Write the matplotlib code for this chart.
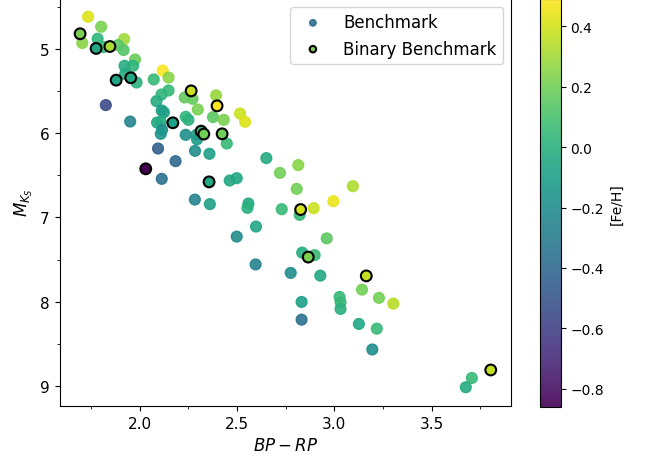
import numpy as np
import matplotlib
matplotlib.use('Agg')
import matplotlib.pyplot as plt
from matplotlib.ticker import AutoMinorLocator

# benchmark stars: colour, absolute Ks magnitude, metallicity
bp_rp = [2.114, 1.736, 1.706, 1.803, 1.785, 1.815, 1.921, 1.889, 1.918, 1.977,
         1.967, 1.923, 1.926, 1.985, 1.827, 2.119, 2.073, 2.149, 2.149, 2.113,
         2.087, 2.232, 2.272, 2.299, 2.393, 2.377, 2.432, 2.516, 2.542, 2.114,
         2.125, 2.090, 2.109, 2.116, 2.109, 2.237, 2.251, 2.237, 2.292, 2.295,
         2.448, 2.095, 2.285, 2.359, 2.185, 2.651, 2.721, 2.815, 2.463, 2.499,
         2.807, 2.284, 2.361, 2.559, 2.554, 2.730, 2.822, 2.894, 2.995, 3.095,
         2.598, 2.499, 2.835, 2.899, 2.961, 2.596, 2.776, 2.928, 3.142, 3.229,
         3.303, 3.027, 3.032, 3.032, 2.832, 2.832, 3.126, 3.218, 3.195, 3.706,
         3.675, 1.952]
mks = [6.543, 4.620, 4.932, 4.739, 4.881, 4.980, 4.885, 4.956, 5.015, 5.127,
       5.202, 5.202, 5.300, 5.400, 5.668, 5.258, 5.364, 5.341, 5.495, 5.542,
       5.621, 5.578, 5.593, 5.720, 5.552, 5.811, 5.843, 5.768, 5.866, 5.732,
       5.754, 5.875, 5.866, 5.961, 6.009, 5.807, 5.843, 6.021, 6.021, 6.074,
       6.124, 6.183, 6.211, 6.246, 6.333, 6.297, 6.472, 6.380, 6.563, 6.535,
       6.662, 6.789, 6.843, 6.836, 6.887, 6.903, 6.970, 6.891, 6.808, 6.630,
       7.109, 7.228, 7.418, 7.448, 7.249, 7.558, 7.659, 7.691, 7.857, 7.955,
       8.023, 7.944, 8.007, 8.086, 8.003, 8.213, 8.264, 8.320, 8.567, 8.905,
       9.015, 5.863]
feh = [-0.36, 0.42, 0.25, 0.22, 0.03, 0.05, 0.30, 0.15, 0.13, 0.18,
       0.02, -0.02, -0.03, 0.00, -0.55, 0.48, 0.05, 0.25, 0.05, 0.02,
       -0.03, 0.17, 0.17, 0.22, 0.28, 0.15, 0.22, 0.38, 0.42, -0.12,
       -0.10, -0.05, -0.03, -0.20, -0.15, 0.03, 0.00, -0.20, -0.10, -0.12,
       0.05, -0.45, -0.20, -0.10, -0.40, -0.03, 0.20, 0.25, -0.05, -0.05,
       0.20, -0.25, -0.10, -0.05, 0.00, 0.05, 0.05, 0.38, 0.45, 0.33,
       -0.05, -0.20, -0.02, 0.05, 0.15, -0.25, -0.20, -0.05, 0.20, 0.20,
       0.35, 0.05, 0.05, 0.00, -0.10, -0.35, -0.05, 0.05, -0.20, 0.05,
       -0.03, -0.25]

# binary benchmark stars
bin_bp_rp = [1.695, 1.777, 1.848, 1.955, 1.880, 2.265, 2.398, 2.171, 2.316,
             2.330, 2.424, 2.032, 2.357, 2.827, 2.866, 3.164, 3.803]
bin_mks = [4.822, 4.996, 4.973, 5.344, 5.372, 5.499, 5.677, 5.878, 5.977,
           6.012, 6.009, 6.424, 6.579, 6.907, 7.471, 7.694, 8.810]
bin_feh = [0.22, -0.05, 0.32, -0.05, -0.07, 0.38, 0.49, -0.10, 0.05,
           0.20, 0.20, -0.86, -0.05, 0.40, 0.22, 0.37, 0.37]

vmin, vmax = -0.86, 0.49

fig = plt.figure(figsize=(6.49, 4.60), dpi=100)
ax = fig.add_axes([0.0918, 0.1157, 0.696, 0.886])
cax = fig.add_axes([0.832, 0.113, 0.032, 0.887])

sc = ax.scatter(bp_rp, mks, c=feh, cmap='viridis', vmin=vmin, vmax=vmax,
                s=60, alpha=0.9, label='Benchmark')
ax.scatter(bin_bp_rp, bin_mks, c=bin_feh, cmap='viridis', vmin=vmin, vmax=vmax,
           s=60, edgecolors='k', linewidths=1.5, label='Binary Benchmark')

ax.invert_yaxis()
ax.xaxis.set_minor_locator(AutoMinorLocator(2))
ax.yaxis.set_minor_locator(AutoMinorLocator(2))
ax.set_xlabel('$BP-RP$', fontsize=12)
ax.set_ylabel('$M_{K_S}$', fontsize=12)
ax.tick_params(labelsize=11)
ax.legend(loc='upper right', fontsize=12, markerscale=0.6)

cb = fig.colorbar(sc, cax=cax)
cb.set_label('[Fe/H]')

plt.savefig('out.png', dpi=100)
